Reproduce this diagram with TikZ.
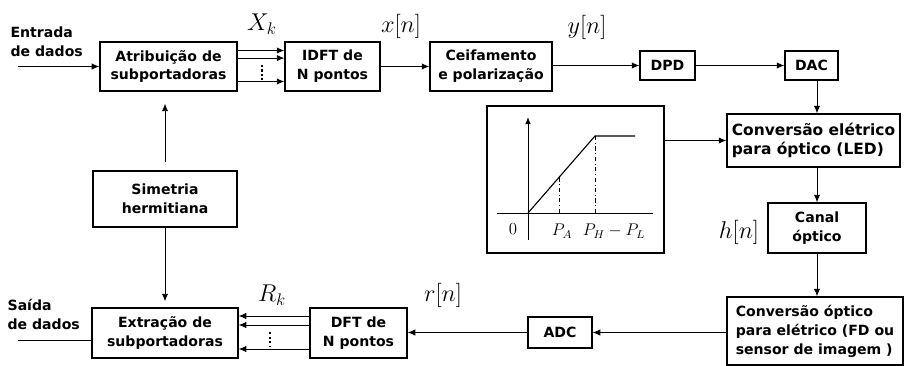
\documentclass[tikz,border=0pt]{standalone}
\usepackage{fontspec}
\usepackage{amsmath}
\setsansfont{DejaVu Sans}
\usetikzlibrary{arrows.meta,positioning,calc}

\begin{document}
\begin{tikzpicture}[x=0.025cm,y=-0.025cm,
    blk/.style={draw,line width=0.9pt,align=center,inner sep=0pt,
        font=\sffamily\bfseries\fontsize{10}{13.5}\selectfont},
    arr/.style={-{Latex[length=1.9mm,width=1.6mm]},line width=0.7pt},
    dots/.style={line width=1.3pt,dash pattern=on 1.6pt off 1.6pt},
    lbl/.style={font=\fontsize{16.5}{19}\selectfont},
    axlbl/.style={font=\fontsize{12}{14}\selectfont}]
\useasboundingbox (0,0) rectangle (905,366);

% transmitter
\node[blk,minimum width=3.425cm,minimum height=1.225cm] (attr) at (168.5,66.5){Atribuição de\\subportadoras};
\node[blk,minimum width=2.375cm,minimum height=1.225cm] (idft) at (332.5,66.5){IDFT de\\N pontos};
\node[blk,minimum width=3.05cm,minimum height=1.225cm] (ceif) at (491,66.5){Ceifamento\\e polarização};
\node[blk,minimum width=1.375cm,minimum height=0.725cm] (dpd) at (667.5,65.5){DPD};
\node[blk,minimum width=1.325cm,minimum height=0.725cm] (dac) at (811.5,65.5){DAC};
\node[blk,align=left,minimum width=4.325cm,minimum height=1.325cm,
    font=\sffamily\bfseries\fontsize{11}{14}\selectfont] (led) at (813.5,140.5){Conversão elétrico\\para óptico (LED)};
\node[blk,minimum width=2.45cm,minimum height=1.25cm] (canal) at (817,228){Canal\\óptico};
\node[blk,minimum width=3.6cm,minimum height=1.4cm] (sim) at (165,199){Simetria\\hermitiana};

% receiver
\node[blk,align=left,minimum width=4.4cm,minimum height=1.7cm] (opel) at (815,331){Conversão óptico\\para elétrico (FD ou\\sensor de imagem )};
\node[blk,minimum width=1.6cm,minimum height=0.775cm] (adc) at (560,332.5){ADC};
\node[blk,minimum width=2.425cm,minimum height=1.25cm] (dft) at (358.5,333){DFT de\\N pontos};
\node[blk,minimum width=3.65cm,minimum height=1.25cm] (extr) at (165,333){Extração de\\subportadoras};

% data in / out
\node[blk,draw=none,align=left,anchor=west] (din) at (10,42){Entrada\\de dados};
\node[blk,draw=none,align=left,anchor=west] (dout) at (7,314){Saída\\de dados};
\coordinate (inpt) at (18,66.5);
\coordinate (outpt) at (18,340);
\draw[arr] (inpt) -- (attr.west);
\draw[line width=0.7pt] (outpt -| extr.west) -- (outpt);

% signal labels
\node[lbl] (xk) at (262,24){$X_k$};
\node[lbl] (xn) at (401,26){$x[n]$};
\node[lbl] (yn) at (587,27){$y[n]$};
\node[lbl] (rk) at (272,295){$R_k$};
\node[lbl] (rn) at (443,295){$r[n]$};
\node[lbl] (hn) at (739,232){$h[n]$};

% parallel branches
\foreach \dy in {0.4,0.21,-0.375}
    \draw[arr] ([yshift=\dy cm]attr.east) -- ([yshift=\dy cm]idft.west);
\draw[dots] (262,65) -- (262,80);
\foreach \dy in {0.425,0.2,-0.4}
    \draw[arr] ([yshift=\dy cm]dft.west) -- ([yshift=\dy cm]extr.east);
\draw[dots] (270,332) -- (270,347);

% chain connectors
\draw[arr] (idft) -- (ceif);
\draw[arr] (ceif.east |- dpd.west) -- (dpd.west);
\draw[arr] (dpd) -- (dac);
\draw[arr] (dac.south -| canal.north) -- (led.north -| canal.north);
\draw[arr] (led.south -| canal.north) -- (canal.north);
\draw[arr] (canal.south) -- (opel.north -| canal.south);
\draw[arr] (opel.west |- adc.east) -- (adc.east);
\draw[arr] (adc.west) -- (adc.west -| dft.east);
\draw[arr,shorten <=0.2cm,shorten >=0.3cm] (sim.north) -- (sim.north |- attr.south);
\draw[arr,shorten >=0.15cm] (sim.south) -- (sim.south |- extr.north);

% clipping characteristic
\node[draw,line width=0.9pt,minimum width=4.425cm,minimum height=3.675cm] (plot) at (575.5,179.5){};
\draw[-{Latex[length=1.8mm,width=1.4mm]},line width=0.6pt] (528,240) -- (528,117);
\draw[line width=0.6pt] (497,213) -- (653,213);
\draw[line width=0.8pt] (528,213) -- (595,136) -- (635,136);
\draw[dash dot,line width=0.5pt] (559,177.4) -- (559,213);
\draw[dash dot,line width=0.5pt] (595,136) -- (595,213);
\node[axlbl] (zero) at (513,229){$0$};
\node[axlbl] (pa) at (562,231){$P_A$};
\node[axlbl] (phl) at (614,231){$P_H - P_L$};
\draw[arr] (led.west -| plot.east) -- (led.west);
\end{tikzpicture}
\end{document}
